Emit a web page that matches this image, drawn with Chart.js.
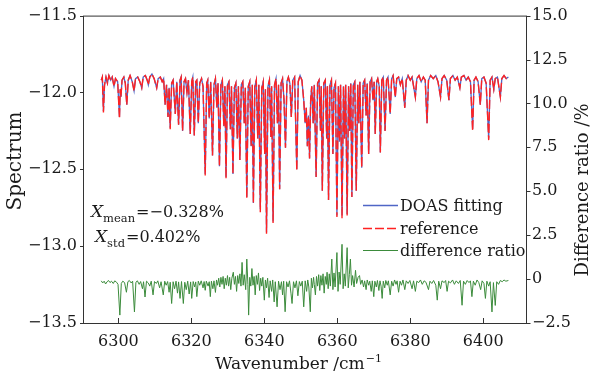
<!DOCTYPE html>
<html>
<head>
<meta charset="utf-8">
<script src="https://cdn.jsdelivr.net/npm/chart.js@4.4.1/dist/chart.umd.min.js"></script>
<style>
  html, body { margin: 0; padding: 0; background: #fff; }
</style>
</head>
<body>
<canvas id="chart" width="592" height="377"></canvas>
<script>
// spectrum (wavenumber in cm^-1, log spectrum)
const wavenumber = [
  6295.3, 6295.6, 6295.9, 6296.2, 6296.6, 6297.0, 6297.4, 6297.9, 6298.3, 6298.8,
  6299.2, 6299.8, 6300.3, 6300.5, 6300.7, 6301.0, 6301.5, 6301.9, 6302.3, 6302.7,
  6303.2, 6303.8, 6304.3, 6304.7, 6305.3, 6305.9, 6306.4, 6306.8, 6307.4, 6307.9,
  6308.2, 6308.6, 6309.2, 6309.8, 6310.5, 6310.9, 6311.5, 6312.0, 6312.4, 6312.8,
  6313.2, 6313.6, 6313.9, 6314.2, 6314.6, 6315.0, 6315.6, 6316.0, 6316.5, 6316.9,
  6317.2, 6317.6, 6318.0, 6318.4, 6318.8, 6319.2, 6319.7, 6320.1, 6320.4, 6320.8,
  6321.2, 6321.5, 6321.9, 6322.3, 6322.8, 6323.2, 6323.8, 6324.2, 6324.5, 6324.9,
  6325.3, 6325.8, 6326.2, 6326.6, 6327.0, 6327.3, 6327.7, 6328.1, 6328.5, 6328.9,
  6329.2, 6329.5, 6329.9, 6330.3, 6330.7, 6331.0, 6331.4, 6331.8, 6332.2, 6332.6,
  6332.9, 6333.3, 6333.7, 6334.1, 6334.5, 6334.8, 6335.2, 6335.6, 6336.0, 6336.4,
  6336.7, 6337.0, 6337.4, 6337.8, 6338.2, 6338.5, 6338.9, 6339.3, 6339.7, 6340.1,
  6340.3, 6340.6, 6341.0, 6341.4, 6341.8, 6342.0, 6342.4, 6342.8, 6343.2, 6343.6,
  6343.9, 6344.2, 6344.6, 6345.0, 6345.4, 6345.8, 6346.2, 6346.6, 6347.0, 6347.4,
  6347.8, 6348.3, 6348.9, 6349.3, 6349.8, 6350.3, 6350.8, 6351.2, 6351.5, 6351.8,
  6352.1, 6352.4, 6352.7, 6353.0, 6353.4, 6353.7, 6354.2, 6354.6, 6355.0, 6355.4,
  6355.6, 6355.9, 6356.3, 6356.7, 6357.1, 6357.3, 6357.6, 6358.0, 6358.4, 6358.8,
  6359.1, 6359.5, 6359.9, 6360.3, 6360.6, 6360.9, 6361.3, 6361.7, 6362.0, 6362.3,
  6362.7, 6363.1, 6363.4, 6363.7, 6364.0, 6364.4, 6364.8, 6365.2, 6365.6, 6365.9,
  6366.2, 6366.7, 6367.1, 6367.5, 6367.9, 6368.2, 6368.6, 6369.0, 6369.4, 6369.8,
  6370.1, 6370.4, 6370.8, 6371.1, 6371.5, 6371.8, 6372.2, 6372.6, 6373.1, 6373.5,
  6373.9, 6374.5, 6374.9, 6375.3, 6375.9, 6376.3, 6376.8, 6377.3, 6377.8, 6378.5,
  6378.9, 6379.4, 6380.0, 6380.5, 6381.4, 6381.8, 6382.4, 6383.0, 6383.6, 6384.1,
  6384.6, 6385.0, 6385.6, 6386.3, 6387.0, 6387.6, 6388.3, 6388.7, 6389.3, 6390.0,
  6390.6, 6391.0, 6391.7, 6392.3, 6392.9, 6393.6, 6394.0, 6394.7, 6395.3, 6395.9,
  6396.5, 6397.1, 6397.5, 6398.0, 6398.6, 6399.2, 6399.6, 6400.2, 6400.8, 6401.5,
  6401.9, 6402.4, 6402.9, 6403.3, 6403.9, 6404.7, 6405.1, 6405.7, 6406.3, 6406.9
];

const doasFit = [
  -11.92, -11.90, -12.12, -11.95, -11.90, -11.94, -11.89, -11.92, -11.90, -11.96,
  -11.91, -11.93, -12.16, -11.98, -12.03, -11.92, -11.90, -11.94, -12.08, -11.92,
  -11.89, -11.93, -11.99, -11.91, -11.90, -11.93, -11.97, -11.90, -11.89, -11.92,
  -11.95, -11.90, -11.88, -11.91, -11.97, -11.91, -11.90, -11.93, -11.91, -12.08,
  -11.95, -12.16, -11.97, -12.23, -11.94, -11.92, -12.14, -11.93, -12.21, -11.92,
  -11.90, -12.25, -11.93, -11.91, -12.00, -11.92, -12.27, -11.93, -11.90, -12.28,
  -11.93, -11.92, -12.20, -11.94, -11.91, -11.96, -12.53, -11.94, -11.92, -12.17,
  -11.93, -12.41, -11.95, -11.91, -12.10, -11.94, -12.48, -11.95, -11.92, -12.22,
  -11.96, -12.55, -11.95, -11.93, -12.24, -11.96, -12.53, -11.97, -11.94, -12.30,
  -11.96, -12.44, -11.95, -11.93, -12.20, -11.97, -12.68, -11.96, -11.93, -12.35,
  -11.95, -12.72, -11.96, -11.92, -12.30, -11.95, -12.76, -11.97, -11.93, -12.40,
  -11.98, -12.91, -11.96, -11.92, -12.29, -11.96, -12.84, -11.95, -11.91, -12.20,
  -11.95, -12.63, -11.94, -11.91, -12.05, -12.36, -11.93, -11.90, -11.94, -12.16,
  -11.92, -11.90, -12.50, -11.93, -11.89, -11.92, -12.05, -12.20, -12.10, -12.35,
  -12.15, -12.43, -12.05, -11.96, -12.20, -11.95, -12.55, -11.94, -11.92, -12.25,
  -11.96, -12.64, -11.94, -11.92, -12.30, -11.96, -12.70, -11.95, -11.92, -12.40,
  -11.97, -11.94, -12.80, -11.96, -12.32, -11.95, -12.80, -11.96, -12.30, -11.95,
  -12.79, -11.96, -12.25, -11.94, -12.68, -11.95, -11.93, -12.64, -11.95, -12.20,
  -11.93, -12.49, -11.94, -11.92, -12.15, -11.94, -12.40, -11.93, -11.91, -12.05,
  -11.93, -12.27, -11.93, -11.91, -11.96, -12.39, -11.92, -11.90, -12.25, -11.92,
  -11.90, -12.14, -11.91, -11.89, -12.03, -11.91, -11.90, -11.95, -11.91, -12.10,
  -11.92, -11.89, -11.92, -11.90, -12.03, -11.91, -11.89, -11.93, -11.90, -11.92,
  -12.20, -11.92, -11.89, -11.91, -11.89, -11.93, -12.03, -11.91, -11.89, -11.92,
  -12.05, -11.91, -11.89, -11.92, -11.90, -11.97, -11.90, -11.89, -11.92, -11.90,
  -11.93, -12.24, -11.92, -11.90, -11.93, -12.08, -11.91, -11.90, -11.94, -12.30,
  -11.92, -11.90, -11.98, -11.91, -11.90, -12.03, -11.91, -11.89, -11.91, -11.90
];

const referenceSpec = [
  -11.92, -11.90, -12.13, -11.95, -11.90, -11.94, -11.89, -11.92, -11.90, -11.96,
  -11.91, -11.93, -12.17, -11.98, -12.03, -11.92, -11.90, -11.94, -12.08, -11.92,
  -11.89, -11.93, -11.99, -11.91, -11.90, -11.93, -11.97, -11.90, -11.89, -11.92,
  -11.95, -11.90, -11.88, -11.91, -11.97, -11.91, -11.90, -11.93, -11.91, -12.08,
  -11.95, -12.16, -11.97, -12.24, -11.94, -11.92, -12.14, -11.93, -12.21, -11.92,
  -11.90, -12.25, -11.93, -11.91, -12.00, -11.92, -12.27, -11.93, -11.90, -12.28,
  -11.93, -11.92, -12.20, -11.94, -11.91, -11.96, -12.54, -11.94, -11.92, -12.17,
  -11.93, -12.41, -11.95, -11.91, -12.10, -11.94, -12.48, -11.95, -11.92, -12.22,
  -11.96, -12.56, -11.95, -11.93, -12.24, -11.96, -12.53, -11.97, -11.94, -12.30,
  -11.96, -12.44, -11.95, -11.93, -12.20, -11.97, -12.69, -11.96, -11.93, -12.35,
  -11.95, -12.72, -11.96, -11.92, -12.30, -11.95, -12.78, -11.97, -11.93, -12.40,
  -11.98, -12.92, -11.96, -11.92, -12.29, -11.96, -12.85, -11.95, -11.91, -12.20,
  -11.95, -12.63, -11.94, -11.91, -12.05, -12.36, -11.93, -11.90, -11.94, -12.16,
  -11.92, -11.90, -12.51, -11.93, -11.89, -11.92, -12.05, -12.20, -12.10, -12.35,
  -12.15, -12.43, -12.05, -11.96, -12.20, -11.95, -12.55, -11.94, -11.92, -12.25,
  -11.96, -12.64, -11.94, -11.92, -12.30, -11.96, -12.70, -11.95, -11.92, -12.40,
  -11.97, -11.94, -12.81, -11.96, -12.32, -11.95, -12.82, -11.96, -12.30, -11.95,
  -12.80, -11.96, -12.25, -11.94, -12.68, -11.95, -11.93, -12.64, -11.95, -12.20,
  -11.93, -12.49, -11.94, -11.92, -12.15, -11.94, -12.40, -11.93, -11.91, -12.05,
  -11.93, -12.27, -11.93, -11.91, -11.96, -12.39, -11.92, -11.90, -12.25, -11.92,
  -11.90, -12.14, -11.91, -11.89, -12.03, -11.91, -11.90, -11.95, -11.91, -12.10,
  -11.92, -11.89, -11.92, -11.90, -12.03, -11.91, -11.89, -11.93, -11.90, -11.92,
  -12.20, -11.92, -11.89, -11.91, -11.89, -11.93, -12.03, -11.91, -11.89, -11.92,
  -12.05, -11.91, -11.89, -11.92, -11.90, -11.97, -11.90, -11.89, -11.92, -11.90,
  -11.93, -12.25, -11.92, -11.90, -11.93, -12.08, -11.91, -11.90, -11.94, -12.31,
  -11.92, -11.90, -11.98, -11.91, -11.90, -12.03, -11.91, -11.89, -11.91, -11.90
];

// difference ratio in %, right axis
const ratioWavenumber = [
  6295.3, 6295.7, 6296.1, 6296.5, 6296.9, 6297.3, 6297.7, 6298.1, 6298.6, 6299.0,
  6299.5, 6299.9, 6300.4, 6300.8, 6301.2, 6301.7, 6302.2, 6302.6, 6303.0, 6303.5,
  6303.9, 6304.4, 6304.8, 6305.2, 6305.7, 6306.1, 6306.6, 6306.9, 6307.3, 6307.7,
  6308.2, 6308.6, 6309.0, 6309.5, 6309.9, 6310.4, 6310.8, 6311.3, 6311.7, 6312.3,
  6312.7, 6313.1, 6313.5, 6313.9, 6314.2, 6314.6, 6315.0, 6315.4, 6315.8, 6316.2,
  6316.5, 6316.9, 6317.3, 6317.8, 6318.2, 6318.6, 6319.0, 6319.4, 6319.8, 6320.1,
  6320.5, 6320.9, 6321.2, 6321.5, 6321.9, 6322.3, 6322.7, 6323.2, 6323.5, 6323.8,
  6324.1, 6324.6, 6324.9, 6325.2, 6325.5, 6325.9, 6326.2, 6326.6, 6326.9, 6327.2,
  6327.5, 6327.8, 6328.1, 6328.4, 6328.7, 6329.0, 6329.3, 6329.6, 6329.9, 6330.2,
  6330.5, 6330.8, 6331.1, 6331.5, 6331.8, 6332.1, 6332.4, 6332.7, 6333.0, 6333.3,
  6333.6, 6333.9, 6334.2, 6334.5, 6334.9, 6335.2, 6335.5, 6335.7, 6336.0, 6336.3,
  6336.6, 6336.9, 6337.2, 6337.5, 6337.8, 6338.1, 6338.4, 6338.7, 6339.0, 6339.3,
  6339.6, 6340.0, 6340.3, 6340.6, 6340.9, 6341.3, 6341.6, 6342.0, 6342.3, 6342.7,
  6343.0, 6343.5, 6343.9, 6344.3, 6344.7, 6345.0, 6345.3, 6345.7, 6346.1, 6346.5,
  6346.9, 6347.3, 6347.6, 6348.0, 6348.4, 6348.8, 6349.2, 6349.6, 6350.0, 6350.4,
  6350.8, 6351.2, 6351.6, 6351.9, 6352.2, 6352.6, 6352.9, 6353.2, 6353.5, 6353.7,
  6354.0, 6354.3, 6354.6, 6354.9, 6355.2, 6355.5, 6355.8, 6356.1, 6356.4, 6356.7,
  6357.0, 6357.2, 6357.5, 6357.8, 6358.1, 6358.5, 6358.8, 6359.1, 6359.4, 6359.9,
  6360.2, 6360.5, 6360.8, 6361.3, 6361.6, 6361.9, 6362.2, 6362.7, 6363.0, 6363.3,
  6363.6, 6363.9, 6364.2, 6364.6, 6365.0, 6365.3, 6365.7, 6366.1, 6366.4, 6366.8,
  6367.2, 6367.5, 6367.9, 6368.2, 6368.6, 6368.9, 6369.3, 6369.6, 6370.0, 6370.3,
  6370.7, 6371.0, 6371.4, 6371.7, 6372.0, 6372.3, 6372.6, 6373.0, 6373.3, 6373.7,
  6374.0, 6374.5, 6374.9, 6375.3, 6375.7, 6376.1, 6376.4, 6376.8, 6377.2, 6377.6,
  6378.0, 6378.5, 6378.9, 6379.4, 6379.9, 6380.5, 6380.9, 6381.4, 6381.8, 6382.3,
  6382.8, 6383.3, 6383.8, 6384.3, 6385.0, 6385.4, 6385.9, 6386.4, 6387.0, 6387.4,
  6387.8, 6388.3, 6388.7, 6389.3, 6389.7, 6390.1, 6390.5, 6391.0, 6391.6, 6392.1,
  6392.6, 6393.2, 6393.7, 6394.2, 6394.6, 6395.1, 6395.6, 6396.1, 6396.5, 6396.9,
  6397.3, 6397.8, 6398.3, 6398.8, 6399.3, 6399.7, 6400.2, 6400.6, 6401.0, 6401.5,
  6401.9, 6402.4, 6402.8, 6403.3, 6403.7, 6404.2, 6404.7, 6405.2, 6405.7, 6406.2,
  6406.9
];

const diffRatio = [
  -0.10, -0.22, -0.12, -0.28, -0.15, -0.08, -0.20, -0.12, -0.25, -0.10,
  -0.18, -0.30, -2.05, -0.25, -0.12, -0.20, -0.75, -0.15, -0.08, -0.22,
  -0.12, -1.87, -0.18, -0.10, -0.30, -0.14, -0.55, -0.15, -1.02, -0.12,
  -0.22, -0.40, -0.12, -0.90, -0.14, -0.25, -0.10, -0.50, -0.15, -0.90,
  -0.12, -0.35, -0.14, -0.75, -0.18, -1.39, -0.15, -0.55, -0.12, -0.80,
  -0.16, -1.10, -0.14, -1.39, -0.18, -0.60, -0.12, -0.85, -0.16, -1.10,
  -0.14, -0.45, -0.16, -1.00, -0.12, -0.35, -0.10, -0.50, -0.14, -0.64,
  -0.12, -0.40, -0.15, -1.00, -0.12, -0.55, -0.10, -0.76, -0.05, -0.35,
  0.05, -0.45, 0.10, -0.30, 0.15, -0.55, 0.05, -0.35, 0.20, -0.40,
  0.10, -0.60, 0.05, 0.39, -0.30, 0.15, -0.70, 0.20, -0.25, 0.30,
  -0.40, 0.95, -0.35, 0.25, -0.60, 1.14, -0.30, -2.05, 0.10, -0.40,
  0.60, -0.35, 0.15, -0.90, 0.20, -0.30, 0.35, -0.65, 0.05, -0.40,
  0.10, -1.20, -0.05, -0.50, 0.05, -1.05, -0.10, -0.70, -0.05, -1.30,
  -0.15, -1.58, -0.12, -0.60, -0.15, -0.90, -0.12, -1.86, -0.15, -0.45,
  -0.10, -0.80, -1.39, -0.15, -0.50, -0.10, -0.95, -0.14, -0.40, -0.12,
  -1.58, -0.10, -0.70, -0.05, -0.45, -1.86, 0.05, -0.50, 0.10, -0.30,
  -0.90, 0.15, -0.40, 0.25, -0.65, 0.20, -0.35, 0.30, -0.80, 0.15,
  -0.30, 0.39, -0.55, 0.30, -0.40, 1.14, -0.60, 0.35, -0.45, 1.51,
  -0.70, 0.40, -0.30, 1.98, -0.55, 0.30, -0.40, 1.79, -0.50, 0.25,
  1.14, -0.35, 0.20, -0.45, 0.50, -0.25, 0.10, 0.20, -0.30, -0.05,
  -0.45, -0.10, -0.60, -0.05, -0.35, -0.12, -0.70, -0.10, -1.00, -0.12,
  -0.45, -0.08, -0.65, -0.10, -0.40, -1.10, -0.12, -0.50, -0.08, -0.35,
  -0.10, -0.90, -0.12, -0.40, -0.05, -0.30, -0.10, -0.75, -0.12, -0.35,
  -0.05, -0.60, -0.10, -0.25, -0.08, -0.55, -0.10, -0.70, -0.12, -0.20,
  -0.05, -0.30, -0.10, -0.18, -0.60, -0.12, -0.25, -0.08, -0.35, -1.20,
  -0.12, -0.55, -0.10, -0.20, -0.08, -0.70, -0.12, -0.22, -0.05, -0.30,
  -0.10, -0.25, -0.08, -1.49, -0.12, -0.30, -0.08, -0.20, -0.10, -1.00,
  -0.12, -0.35, -0.05, -0.20, -0.60, -0.10, -0.25, -1.10, -0.12, -0.40,
  -0.15, -1.87, -0.20, -1.50, -0.15, -0.30, -0.08, -0.15, -0.05, -0.12,
  -0.08
];

const xTicks = [6300, 6320, 6340, 6360, 6380, 6400];
const spectrumTicks = [-13.5, -13.0, -12.5, -12.0, -11.5];
const ratioTicks = [-2.5, 0, 2.5, 5.0, 7.5, 10.0, 12.5, 15.0];
const statLines = [["mean", "=\u22120.328%"], ["std", "=0.402%"]];

const SERIF = "'DejaVu Serif', serif";
const AXIS = "#333";
Chart.defaults.font.family = SERIF;
Chart.defaults.font.size = 16;
Chart.defaults.color = "#1a1a1a";

const minus = (s) => s.replace("-", "\u2212");

// frame, inward x ticks, outward y ticks, titles, legend and the two stats
const overlay = {
  id: "overlay",
  afterDraw(chart) {
    const { ctx, chartArea: a, scales } = chart;
    ctx.save();
    ctx.strokeStyle = AXIS;
    ctx.lineWidth = 1;
    ctx.strokeRect(a.left + 0.5, a.top + 0.5, a.right - a.left - 1, a.bottom - a.top);

    ctx.beginPath();
    xTicks.forEach((v) => {
      const px = Math.round(scales.x.getPixelForValue(v)) + 0.5;
      ctx.moveTo(px, a.bottom);
      ctx.lineTo(px, a.bottom - 5);
    });
    spectrumTicks.forEach((v) => {
      const py = Math.round(scales.y.getPixelForValue(v)) + 0.5;
      ctx.moveTo(a.left + 0.5, py);
      ctx.lineTo(a.left - 3, py);
    });
    ratioTicks.forEach((v) => {
      const py = Math.round(scales.y2.getPixelForValue(v)) + 0.5;
      ctx.moveTo(a.right - 0.5, py);
      ctx.lineTo(a.right + 3.5, py);
    });
    ctx.stroke();

    ctx.fillStyle = "#1a1a1a";
    ctx.textBaseline = "alphabetic";

    // axis titles
    ctx.save();
    ctx.translate(21, 161);
    ctx.rotate(-Math.PI / 2);
    ctx.textAlign = "center";
    ctx.font = "20px " + SERIF;
    ctx.fillText("Spectrum", 0, 0);
    ctx.restore();

    ctx.save();
    ctx.translate(588, 190);
    ctx.rotate(-Math.PI / 2);
    ctx.textAlign = "center";
    ctx.font = "18px " + SERIF;
    ctx.fillText("Difference ratio /%", 0, 0);
    ctx.restore();

    ctx.textAlign = "left";
    ctx.font = "17px " + SERIF;
    const main = "Wavenumber /cm";
    const wMain = ctx.measureText(main).width;
    ctx.font = "11px " + SERIF;
    const wSup = ctx.measureText("\u22121").width;
    const x0 = 298 - (wMain + wSup) / 2;
    ctx.font = "17px " + SERIF;
    ctx.fillText(main, x0, 369);
    ctx.font = "11px " + SERIF;
    ctx.fillText("\u22121", x0 + wMain + 1, 362);

    // legend
    const rows = [205, 228, 250];
    chart.data.datasets.forEach((ds, i) => {
      const y = rows[i] + 0.5;
      ctx.strokeStyle = ds.borderColor;
      ctx.lineWidth = ds.borderWidth;
      ctx.setLineDash(ds.borderDash || []);
      ctx.beginPath();
      ctx.moveTo(363, y);
      ctx.lineTo(398, y);
      ctx.stroke();
      ctx.setLineDash([]);
      ctx.font = "16px " + SERIF;
      ctx.fillText(ds.label, 400, rows[i] + 6);
    });

    // X_mean, X_std
    [[91, 217], [95, 242]].forEach(([x, y], i) => {
      const [sub, rest] = statLines[i];
      ctx.font = "italic 17px " + SERIF;
      ctx.fillText("X", x, y);
      let cx = x + ctx.measureText("X").width;
      ctx.font = "11.5px " + SERIF;
      ctx.fillText(sub, cx, y + 5);
      cx += ctx.measureText(sub).width + 1;
      ctx.font = "16px " + SERIF;
      ctx.fillText(rest, cx, y);
    });
    ctx.restore();
  }
};

const toPoints = (xs, ys) => xs.map((x, i) => ({ x, y: ys[i] }));

new Chart(document.getElementById("chart"), {
  type: "line",
  data: {
    datasets: [
      {
        label: "DOAS fitting",
        data: toPoints(wavenumber, doasFit),
        borderColor: "#4f66c6",
        borderWidth: 1.3,
        yAxisID: "y",
        order: 2
      },
      {
        label: "reference",
        data: toPoints(wavenumber, referenceSpec),
        borderColor: "#ff2222",
        borderWidth: 1.4,
        borderDash: [9, 3],
        yAxisID: "y",
        order: 1
      },
      {
        label: "difference ratio",
        data: toPoints(ratioWavenumber, diffRatio),
        borderColor: "#3b8b3b",
        borderWidth: 1,
        yAxisID: "y2",
        order: 3
      }
    ]
  },
  options: {
    responsive: false,
    animation: false,
    parsing: false,
    elements: { point: { radius: 0 }, line: { tension: 0 } },
    layout: { padding: { top: 12 } },
    plugins: { legend: { display: false }, tooltip: { enabled: false } },
    scales: {
      x: {
        type: "linear",
        min: 6290.3,
        max: 6412,
        grid: { display: false, drawTicks: false },
        border: { display: false },
        afterBuildTicks: (s) => { s.ticks = xTicks.map((v) => ({ value: v })); },
        afterFit: (s) => { s.height = 54; },
        ticks: { padding: 9, maxRotation: 0, callback: (v) => String(v) }
      },
      y: {
        position: "left",
        min: -13.5,
        max: -11.5,
        grid: { display: false, drawTicks: false },
        border: { display: false },
        afterBuildTicks: (s) => { s.ticks = spectrumTicks.map((v) => ({ value: v })); },
        afterFit: (s) => { s.width = 83; },
        ticks: { padding: 6, callback: (v) => minus(v.toFixed(1)) }
      },
      y2: {
        position: "right",
        min: -2.5,
        max: 15,
        grid: { display: false, drawTicks: false },
        border: { display: false },
        afterBuildTicks: (s) => { s.ticks = ratioTicks.map((v) => ({ value: v })); },
        afterFit: (s) => { s.width = 65; },
        ticks: { padding: 5, callback: (v) => (v === 0 ? "0" : minus(v.toFixed(1))) }
      }
    }
  },
  plugins: [overlay]
});
</script>
</body>
</html>
